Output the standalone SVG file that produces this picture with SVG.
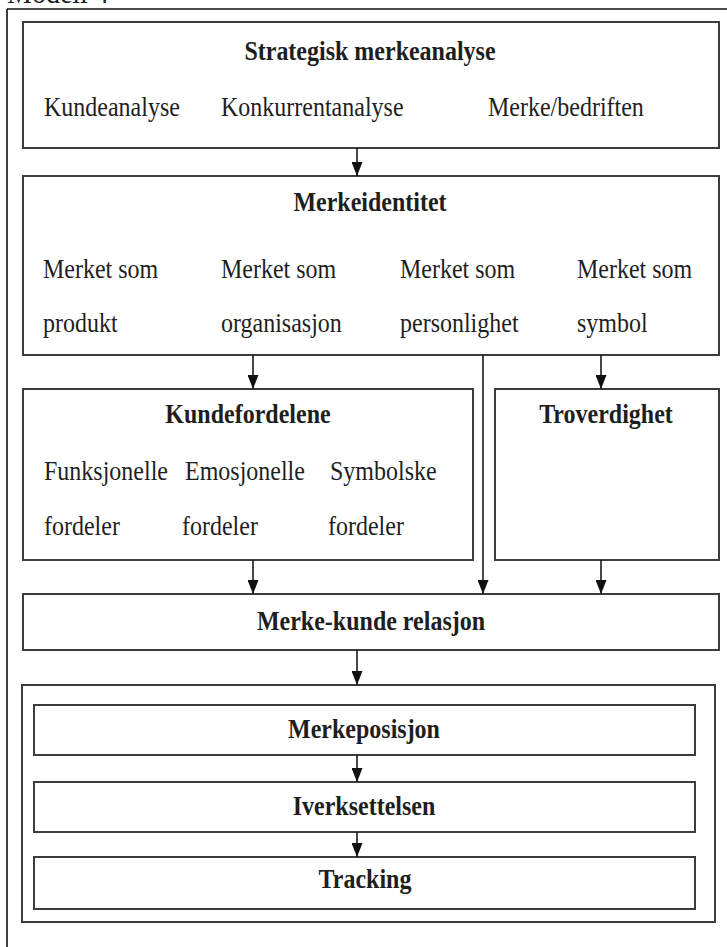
<svg xmlns="http://www.w3.org/2000/svg" width="727" height="947" viewBox="0 0 727 947">
  <style>
    .box { fill: #ffffff; stroke: #3c3c3c; stroke-width: 2; }
    .frame { fill: none; stroke: #111111; stroke-width: 1.6; }
    .link { fill: none; stroke: #1a1a1a; stroke-width: 1.6; marker-end: url(#tip); }
    .t { font-family: "Liberation Serif", "Times New Roman", serif; font-size: 24px; fill: #1e1e1e; }
    .b { font-weight: bold; }
    .c { text-anchor: middle; }
  </style>
  <defs>
    <marker id="tip" markerUnits="userSpaceOnUse" markerWidth="14" markerHeight="11" refX="14" refY="5.5" orient="auto">
      <path d="M0,0 L14,5.5 L0,11 z" fill="#111111"/>
    </marker>
  </defs>

  <rect width="727" height="947" fill="#ffffff"/>

  <!-- page title, running off the top edge -->
  <text class="t" style="font-size:28px" transform="translate(7,3) scale(1,1.1)">Modell 4</text>

  <!-- outer frame: top and left edges only -->
  <g id="frame">
    <path class="frame" d="M7,9 H727 M7,9 V947"/>
  </g>

  <g id="strategisk">
    <rect class="box" x="23" y="22" width="696" height="126"/>
    <text class="t b c" transform="translate(370,60) scale(1,1.1)">Strategisk merkeanalyse</text>
    <text class="t" transform="translate(44,116) scale(1,1.1)">Kundeanalyse</text>
    <text class="t" transform="translate(221,116) scale(1,1.1)">Konkurrentanalyse</text>
    <text class="t" transform="translate(488,116) scale(1,1.1)">Merke/bedriften</text>
  </g>

  <g id="merkeidentitet">
    <rect class="box" x="23" y="176" width="696" height="179"/>
    <text class="t b c" transform="translate(370,211) scale(1,1.1)">Merkeidentitet</text>
    <text class="t" transform="translate(43,278) scale(1,1.1)">Merket som</text>
    <text class="t" transform="translate(43,332) scale(1,1.1)">produkt</text>
    <text class="t" transform="translate(221,278) scale(1,1.1)">Merket som</text>
    <text class="t" transform="translate(221,332) scale(1,1.1)">organisasjon</text>
    <text class="t" transform="translate(400,278) scale(1,1.1)">Merket som</text>
    <text class="t" transform="translate(400,332) scale(1,1.1)">personlighet</text>
    <text class="t" transform="translate(577,278) scale(1,1.1)">Merket som</text>
    <text class="t" transform="translate(577,332) scale(1,1.1)">symbol</text>
  </g>

  <g id="kundefordelene">
    <rect class="box" x="23" y="389" width="450" height="171"/>
    <text class="t b c" transform="translate(248,423) scale(1,1.1)">Kundefordelene</text>
    <text class="t" transform="translate(44,480) scale(1,1.1)">Funksjonelle</text>
    <text class="t" transform="translate(44,535) scale(1,1.1)">fordeler</text>
    <text class="t" transform="translate(185,480) scale(1,1.1)">Emosjonelle</text>
    <text class="t" transform="translate(182,535) scale(1,1.1)">fordeler</text>
    <text class="t" transform="translate(330,480) scale(1,1.1)">Symbolske</text>
    <text class="t" transform="translate(328,535) scale(1,1.1)">fordeler</text>
  </g>

  <g id="troverdighet">
    <rect class="box" x="495" y="389" width="224" height="171"/>
    <text class="t b c" transform="translate(606,423) scale(1,1.1)">Troverdighet</text>
  </g>

  <g id="merke-kunde">
    <rect class="box" x="23" y="594" width="696" height="56"/>
    <text class="t b c" transform="translate(371,630) scale(1,1.1)">Merke-kunde relasjon</text>
  </g>

  <g id="gjennomforing">
    <rect class="box" x="22" y="685" width="693" height="237"/>
  </g>

  <g id="merkeposisjon">
    <rect class="box" x="34" y="705" width="661" height="50"/>
    <text class="t b c" transform="translate(364,738) scale(1,1.1)">Merkeposisjon</text>
  </g>

  <g id="iverksettelsen">
    <rect class="box" x="34" y="782" width="661" height="50"/>
    <text class="t b c" transform="translate(364,815) scale(1,1.1)">Iverksettelsen</text>
  </g>

  <g id="tracking">
    <rect class="box" x="34" y="857" width="661" height="52"/>
    <text class="t b c" transform="translate(365,888) scale(1,1.1)">Tracking</text>
  </g>

  <g id="connectors">
    <path class="link" d="M357,148 V176"/>
    <path class="link" d="M253,355 V389"/>
    <path class="link" d="M483,355 V594"/>
    <path class="link" d="M601,355 V389"/>
    <path class="link" d="M253,560 V594"/>
    <path class="link" d="M601,560 V594"/>
    <path class="link" d="M357,650 V685"/>
    <path class="link" d="M357,755 V782"/>
    <path class="link" d="M357,832 V857"/>
  </g>
</svg>
